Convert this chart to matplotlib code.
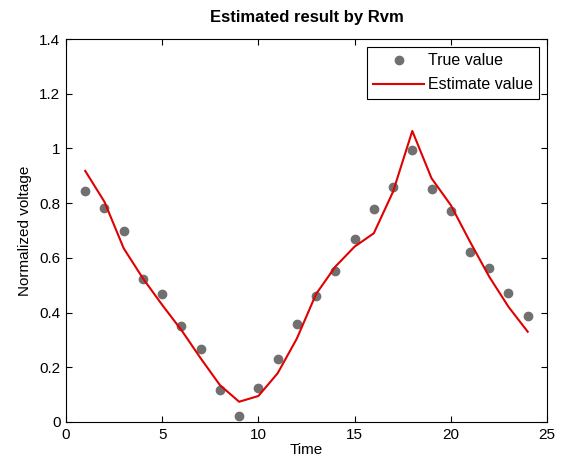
"""
plot.py
Recreate the 'Estimated result by Rvm' chart: true values vs. estimate.
"""

import matplotlib
matplotlib.use('Agg')
import matplotlib.pyplot as plt

plt.rcParams['font.family'] = ['Liberation Sans', 'DejaVu Sans']

# data
time = list(range(1, 25))
true_value = [0.845, 0.782, 0.697, 0.524, 0.469, 0.352, 0.266, 0.117, 0.023, 0.126,
              0.232, 0.358, 0.462, 0.553, 0.669, 0.778, 0.858, 0.995, 0.853, 0.770,
              0.623, 0.562, 0.473, 0.386]
estimate_value = [0.918, 0.805, 0.635, 0.525, 0.428, 0.336, 0.233, 0.135, 0.074, 0.095,
                  0.178, 0.305, 0.468, 0.568, 0.641, 0.690, 0.842, 1.064, 0.891, 0.793,
                  0.659, 0.531, 0.421, 0.330]

xticks = [0, 5, 10, 15, 20, 25]
yticks = [0, 0.2, 0.4, 0.6, 0.8, 1, 1.2, 1.4]
yticklabels = ['0', '0.2', '0.4', '0.6', '0.8', '1', '1.2', '1.4']

fig = plt.figure(figsize=(5.61, 4.65), dpi=100)
ax = fig.add_axes([0.1176, 0.0925, 0.8574, 0.8235])

ax.plot(time, true_value, 'o', color='#707070', markersize=6, label='True value')
ax.plot(time, estimate_value, '-', color='#e00000', linewidth=1.5, label='Estimate value')

ax.set_xlim(0, 25)
ax.set_ylim(0, 1.4)
ax.set_xticks(xticks)
ax.set_yticks(yticks)
ax.set_yticklabels(yticklabels)
ax.tick_params(direction='in', top=True, right=True, labelsize=11, length=4, pad=4)
for sp in ax.spines.values():
    sp.set_linewidth(0.8)

ax.set_title('Estimated result by Rvm', fontsize=12, fontweight='bold', pad=12)
ax.set_xlabel('Time', fontsize=11, labelpad=1)
ax.set_ylabel('Normalized voltage', fontsize=11, labelpad=5)

leg = ax.legend(loc='upper right', fontsize=11.5, fancybox=False, edgecolor='black',
                framealpha=1, borderaxespad=0.5, handlelength=3.2, handletextpad=0.2,
                labelspacing=0.55, borderpad=0.4)
leg.get_frame().set_linewidth(0.8)

fig.savefig('out.png', dpi=100)
